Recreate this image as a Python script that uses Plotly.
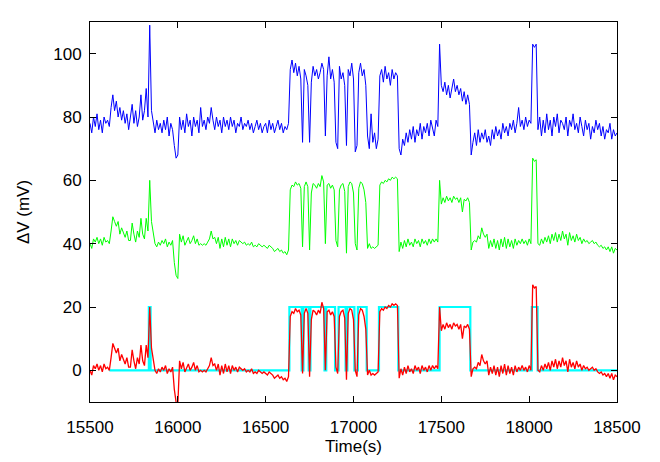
import plotly.graph_objects as go

# sample times (s), one reading every 10 s
timeS = list(range(15500, 18501, 10))

# blue channel (mV), ten readings per row = 100 s
blueMv = [
    78, 75, 80, 77, 81, 76, 79, 75, 80, 78,
    79, 77, 83, 87, 82, 85, 80, 83, 79, 82,
    78, 81, 76, 80, 84, 78, 82, 77, 80, 87,
    79, 82, 89, 80, 109, 82, 78, 75, 79, 76,
    78, 75, 79, 76, 80, 74, 78, 76, 71, 67,
    68, 80, 76, 79, 75, 81, 77, 79, 74, 80,
    77, 79, 75, 83, 77, 79, 76, 80, 78, 83,
    79, 76, 80, 77, 79, 75, 80, 77, 79, 76,
    80, 77, 79, 75, 78, 77, 80, 76, 78, 77,
    79, 76, 78, 75, 77, 79, 76, 78, 75, 77,
    78, 75, 79, 76, 78, 75, 77, 79, 76, 78,
    75, 77, 76, 78, 95, 98, 94, 97, 93, 96,
    92, 72, 95, 93, 90, 72, 91, 96, 93, 95,
    92, 94, 97, 95, 74, 93, 99, 92, 95, 91,
    72, 70, 96, 92, 94, 90, 71, 95, 93, 97,
    92, 69, 71, 94, 97, 93, 95, 90, 74, 70,
    81, 72, 75, 70, 73, 93, 95, 91, 96, 92,
    94, 90, 95, 92, 94, 93, 70, 68, 73, 71,
    75, 72, 76, 73, 77, 72, 76, 74, 78, 73,
    77, 75, 78, 74, 79, 76, 74, 79, 77, 103,
    90, 88, 91, 87, 90, 86, 89, 92, 88, 90,
    87, 89, 85, 88, 84, 87, 84, 68, 72, 75,
    71, 76, 72, 75, 73, 76, 72, 74, 71, 76,
    73, 77, 74, 76, 73, 78, 75, 77, 74, 78,
    76, 79, 75, 78, 83, 77, 79, 76, 80, 77,
    79, 78, 103, 102, 103, 76, 80, 74, 79, 75,
    81, 76, 79, 74, 80, 77, 81, 75, 79, 78,
    76, 80, 74, 79, 77, 81, 76, 78, 75, 80,
    77, 74, 79, 76, 78, 73, 77, 75, 79, 76,
    78, 74, 77, 73, 76, 75, 78, 73, 76, 74,
    75,
]

# green channel (mV)
greenMv = [
    40, 38.5, 41.5, 40.5, 42, 40, 41.5, 39.5, 42, 40.5,
    41, 40, 44, 48.5, 47, 45.5, 47, 43, 45, 43.5,
    42, 44, 41, 41, 46.5, 43, 40.5, 44, 42, 48,
    43, 41.5, 48, 44, 60, 47, 43, 40, 39, 40.5,
    39.5, 41, 40, 41.5, 39, 40.5, 39.5, 41, 34, 30,
    29, 43, 40.5, 42.5, 39.5, 41, 42, 40, 41, 42.5,
    40, 41.5, 39.5, 40, 39.5, 40, 39.5, 40.5, 41.5, 44,
    41.5, 42, 40, 42, 38.5, 41.5, 39, 42, 39.5, 41.5,
    39, 41.5, 40, 41, 39.5, 41, 40.5, 40, 40.5, 39.5,
    40, 39.5, 40.5, 39, 39.5, 39, 40, 39.5, 39, 39.5,
    39, 38.5, 39.5, 39, 38.5, 37.5, 38, 38.5, 37.5, 38,
    37, 37.5, 36.5, 38, 57, 58.5, 58, 59.5, 58.5, 59,
    57.5, 39, 58, 59.5, 58, 38, 56, 59, 58.5, 57.5,
    59, 58, 61.5, 59.5, 40, 58.5, 59, 57.5, 58.5, 57,
    41, 39, 57, 58.5, 59, 56.5, 37, 58, 59.5, 59,
    56, 40, 38, 57.5, 59.5, 59, 57, 53, 38.5, 40,
    38.5, 39, 38.5, 39, 39.5, 58.5, 59.5, 59, 60, 59.5,
    60.5, 60, 61, 60.5, 61, 60.5, 37.5, 40.5, 38.5, 41,
    39, 41.5, 39.5, 40.5, 39, 41.5, 40, 41, 39, 41.5,
    40, 41, 39.5, 41.5, 40, 41.5, 40.5, 41.5, 40.5, 60,
    52.5, 54.5, 53, 55, 53.5, 54.5, 53, 55, 54, 54.5,
    53, 54.5, 50, 54, 53.5, 54.5, 53, 38, 40.5, 41,
    40.5, 42.5, 41.5, 45, 43, 42, 43, 38.5, 41, 39,
    41.5, 38.5, 41, 38, 41.5, 39, 42, 38.5, 41.5, 39,
    41, 38.5, 41.5, 39.5, 41, 40, 41.5, 40, 41, 39.5,
    41.5, 40, 67, 66, 66.5, 40, 39.5, 41.5, 40, 42,
    40.5, 42.5, 40, 43, 41, 43.5, 40.5, 43, 41, 44,
    41.5, 43, 39.5, 43.5, 41, 42.5, 40.5, 43, 41, 42,
    40, 41.5, 40.5, 41, 40, 40.5, 41, 40, 40.5, 39.5,
    39, 39.5, 38.5, 39, 38, 39, 37.5, 39, 37, 38.5,
    38,
]

# red channel (mV)
redMv = [
    0, -1.5, 1.5, 0.5, 2, 0, 1.5, -0.5, 2, 0.5,
    1, 0, 4, 8.5, 7, 5.5, 7, 3, 5, 3.5,
    2, 4, 1, 1, 6.5, 3, 0.5, 4, 2, 8,
    3, 1.5, 8, 4, 20, 7, 3, 0, -1, 0.5,
    -0.5, 1, 0, 1.5, -1, 0.5, -0.5, 1, -6, -10,
    -11, 3, 0.5, 2.5, -0.5, 1, 2, 0, 1, 2.5,
    0, 1.5, -0.5, 0, -0.5, 0, -0.5, 0.5, 1.5, 4,
    1.5, 2, 0, 2, -1.5, 1.5, -1, 2, -0.5, 1.5,
    -1, 1.5, 0, 1, -0.5, 1, 0.5, 0, 0.5, -0.5,
    0, -0.5, 0.5, -1, -0.5, -1, 0, -0.5, -1, -0.5,
    -1, -1.5, -0.5, -1, -1.5, -2.5, -2, -1.5, -2.5, -2,
    -3, -2.5, -3.5, -2, 17, 18.5, 18, 19.5, 18.5, 19,
    17.5, -1, 18, 19.5, 18, -2, 16, 19, 18.5, 17.5,
    19, 18, 21.5, 19.5, 0, 18.5, 19, 17.5, 18.5, 17,
    1, -1, 17, 18.5, 19, 16.5, -3, 18, 19.5, 19,
    16, 0, -2, 17.5, 19.5, 19, 17, 13, -1.5, 0,
    -1.5, -1, -1.5, -1, -0.5, 18.5, 19.5, 19, 20, 19.5,
    20.5, 20, 21, 20.5, 21, 20.5, -2.5, 0.5, -1.5, 1,
    -1, 1.5, -0.5, 0.5, -1, 1.5, 0, 1, -1, 1.5,
    0, 1, -0.5, 1.5, 0, 1.5, 0.5, 1.5, 0.5, 20,
    12.5, 14.5, 13, 15, 13.5, 14.5, 13, 15, 14, 14.5,
    13, 14.5, 10, 14, 13.5, 14.5, 13, -2, 0.5, 1,
    0.5, 2.5, 1.5, 5, 3, 2, 3, -1.5, 1, -1,
    1.5, -1.5, 1, -2, 1.5, -1, 2, -1.5, 1.5, -1,
    1, -1.5, 1.5, -0.5, 1, 0, 1.5, 0, 1, -0.5,
    1.5, 0, 27, 26, 26.5, 0, -0.5, 1.5, 0, 2,
    0.5, 2.5, 0, 3, 1, 3.5, 0.5, 3, 1, 4,
    1.5, 3, -0.5, 3.5, 1, 2.5, 0.5, 3, 1, 2,
    0, 1.5, 0.5, 1, 0, 0.5, 1, 0, 0.5, -0.5,
    -1, -0.5, -1.5, -1, -2, -1, -2.5, -1, -3, -1.5,
    -2,
]

# on/off reference (step changes only)
refTimeS = [15610, 15835, 15845, 16635, 16705, 16715, 16745, 16755, 16835, 16845,
            16895, 16915, 16955, 16965, 17005, 17025, 17075, 17145, 17255, 17490,
            17665, 18015, 18048, 18500]
refMv = [0, 20, 0, 20, 0, 20, 0, 20, 0, 20,
         0, 20, 0, 20, 0, 20, 0, 20, 0, 20,
         0, 20, 0, 0]

fig = go.Figure()

fig.add_trace(go.Scatter(x=timeS, y=blueMv, mode='lines',
                         line=dict(color='#0000ff', width=1)))
fig.add_trace(go.Scatter(x=timeS, y=greenMv, mode='lines',
                         line=dict(color='#00ff00', width=1)))
fig.add_trace(go.Scatter(x=refTimeS, y=refMv, mode='lines',
                         line=dict(color='#00ffff', width=2.2, shape='hv')))
fig.add_trace(go.Scatter(x=timeS, y=redMv, mode='lines',
                         line=dict(color='#ff0000', width=1.3)))

axisStyle = dict(showline=True, linecolor='black', linewidth=1, mirror='ticks',
                 ticks='inside', ticklen=6, tickcolor='black', showgrid=False,
                 zeroline=False, automargin=False, tickformat='d',
                 tickfont=dict(size=17, color='black'))

fig.update_xaxes(range=[15500, 18500], dtick=500, title_text='Time(s)',
                 title_font=dict(size=17, color='black'), title_standoff=2,
                 ticklabelstandoff=10, **axisStyle)
fig.update_yaxes(range=[-10, 110], dtick=20, title_text='ΔV (mV)',
                 title_font=dict(size=17, color='black'), title_standoff=19,
                 ticklabelstandoff=4, **axisStyle)

# page body has an 8 px margin, so the figure is shrunk by that much
fig.update_layout(width=652, height=454, showlegend=False,
                  margin=dict(l=82, r=43, t=14, b=60),
                  font=dict(family='Liberation Sans, Arial, sans-serif'),
                  paper_bgcolor='white', plot_bgcolor='white')

fig.write_html("out.html")
